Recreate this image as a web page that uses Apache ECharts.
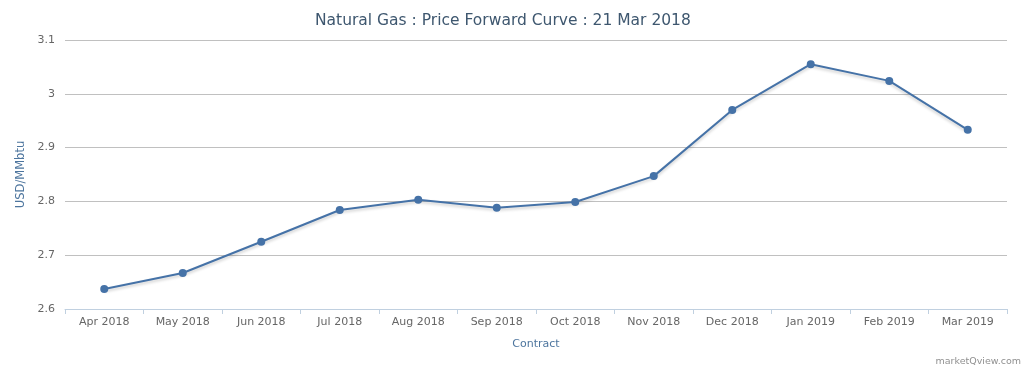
<!DOCTYPE html>
<html><head><meta charset="utf-8">
<script src="https://cdn.jsdelivr.net/npm/echarts@6/dist/echarts.min.js"></script>
<style>html,body{margin:0;padding:0;background:#fff}#c{width:1033px;height:370px}</style>
</head><body><div id="c"></div>
<script>
const categories = ['Apr 2018','May 2018','Jun 2018','Jul 2018','Aug 2018','Sep 2018','Oct 2018','Nov 2018','Dec 2018','Jan 2019','Feb 2019','Mar 2019'];
const prices = [2.637, 2.667, 2.725, 2.784, 2.803, 2.788, 2.799, 2.847, 2.970, 3.055, 3.024, 2.933];
const titleText = 'Natural Gas : Price Forward Curve : 21 Mar 2018';
const yName = 'USD/MMbtu';
const xName = 'Contract';
const credit = 'marketQview.com';

const chart = echarts.init(document.getElementById('c'), null, {renderer:'canvas'});
const font = 'DejaVu Sans';
chart.setOption({
  animation:false,
  title:{text:titleText,left:310,top:8,textStyle:{fontFamily:font,fontSize:15.5,fontWeight:'normal',color:'#3e576f'}},
  graphic:[{type:'text',right:12,bottom:3,style:{text:credit,fontFamily:font,fontSize:9.5,fill:'#909090'}}],
  grid:{left:65,right:26,top:40,bottom:61},
  xAxis:{type:'category',data:categories,boundaryGap:true,name:xName,nameLocation:'middle',nameGap:30,
    nameTextStyle:{fontFamily:font,fontSize:11,color:'#4d759e',fontWeight:'normal'},
    axisLine:{lineStyle:{color:'#c0d0e0'}},axisTick:{show:true,alignWithLabel:false,length:5,lineStyle:{color:'#c0d0e0'}},
    axisLabel:{fontFamily:font,fontSize:11,color:'#666',margin:8}},
  yAxis:{type:'value',min:2.6,max:3.1,interval:0.1,name:yName,nameLocation:'middle',nameGap:31,
    nameTextStyle:{fontFamily:font,fontSize:11.5,color:'#4d759e',fontWeight:'normal'},
    axisLine:{show:false},axisTick:{show:false},
    splitLine:{lineStyle:{color:'#c0c0c0',width:1}},
    axisLabel:{fontFamily:font,fontSize:11,color:'#666',margin:10,formatter:v=>String(+v.toFixed(1))}},
  series:[{type:'line',data:prices,symbol:'circle',symbolSize:8,
    lineStyle:{color:'#4572a7',width:2,shadowColor:'rgba(0,0,0,0.2)',shadowBlur:3,shadowOffsetY:2},
    itemStyle:{color:'#4572a7'}}]
});
</script></body></html>
